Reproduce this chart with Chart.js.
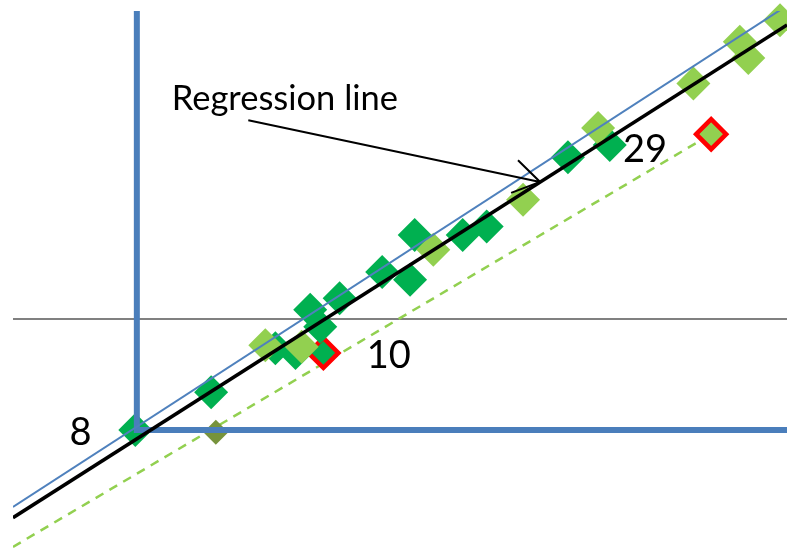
<!DOCTYPE html>
<html>
<head>
<meta charset="utf-8">
<script src="https://cdn.jsdelivr.net/npm/chart.js@4/dist/chart.umd.min.js"></script>
<style>
  html, body { margin: 0; padding: 0; background: #ffffff; }
  #wrap { width: 787px; height: 550px; }
</style>
</head>
<body>
<div id="wrap"><canvas id="c" width="787" height="550"></canvas></div>
<script>
// ---- data (arbitrary units: x 0..100, y -30..40) ----
const darkGreenX = [15.8, 25.6, 33.9, 36.5, 38.4, 39.7, 42.2, 47.7, 51.3, 51.9, 58.1, 61.2, 71.7, 77.1];
const darkGreenY = [-14.4, -9.5, -3.8, -4.4, 1.2, -1.0, 2.7, 6.1, 5.1, 10.9, 10.9, 12.0, 21.0, 22.6];

const lightGreenX = [32.6, 37.3, 54.3, 65.9, 75.6, 87.9, 93.9, 95.0, 99.1];
const lightGreenY = [-3.4, -3.6, 9.0, 15.5, 24.8, 30.6, 36.0, 33.9, 38.8];

const outlierX = [40.1, 90.2];
const outlierY = [-4.4, 24.0];
const outlierFill = ['#00B050', '#92D050'];

const leverageX = [26.2];
const leverageY = [-14.7];

const regressionX = [0, 100];
const regressionY = [-25.8, 38.2];

const fitAllX = [0, 100];
const fitAllY = [-24.4, 40.7];

const fitDashedX = [0, 90.2];
const fitDashedY = [-29.6, 24.0];

const baselineX = [0, 100];
const baselineY = [0, 0];

const crossX = [16.0, 16.0, 100];
const crossY = [40, -14.4, -14.4];

const labelTexts = ['Regression line', '8', '10', '29'];
const labelX = [20.5, 7.3, 45.7, 78.8];
const labelY = [27.1, -16.3, -6.3, 20.4];

const arrowFrom = [30.4, 25.8];
const arrowTo = [68.1, 17.8];

const pts = (xs, ys) => xs.map((x, i) => ({ x: x, y: ys[i] }));

const annotations = {
  id: 'annotations',
  afterDatasetsDraw(chart) {
    const ctx = chart.ctx;
    const xs = chart.scales.x, ys = chart.scales.y;
    ctx.save();
    // arrow
    const x1 = xs.getPixelForValue(arrowFrom[0]), y1 = ys.getPixelForValue(arrowFrom[1]);
    const x2 = xs.getPixelForValue(arrowTo[0]), y2 = ys.getPixelForValue(arrowTo[1]);
    ctx.strokeStyle = '#000000';
    ctx.lineWidth = 2;
    ctx.beginPath();
    ctx.moveTo(x1, y1);
    ctx.lineTo(x2, y2);
    const ang = Math.atan2(y2 - y1, x2 - x1);
    const len = 31, spread = 0.57;
    ctx.moveTo(x2 - len * Math.cos(ang - spread), y2 - len * Math.sin(ang - spread));
    ctx.lineTo(x2, y2);
    ctx.lineTo(x2 - len * Math.cos(ang + spread), y2 - len * Math.sin(ang + spread));
    ctx.stroke();
    // labels
    ctx.fillStyle = '#000000';
    ctx.textAlign = 'left';
    ctx.textBaseline = 'alphabetic';
    labelTexts.forEach((t, i) => {
      ctx.font = (i === 0 ? '34.5px' : '38px') + ' Lato, "Open Sans", sans-serif';
      ctx.fillText(t, xs.getPixelForValue(labelX[i]), ys.getPixelForValue(labelY[i]));
    });
    ctx.restore();
  }
};

new Chart(document.getElementById('c'), {
  type: 'scatter',
  data: {
    datasets: [
      { label: 'Regression', data: pts(regressionX, regressionY), showLine: true, borderColor: '#000000', borderWidth: 3.5, pointRadius: 0, order: 1 },
      { label: 'Fit all', data: pts(fitAllX, fitAllY), showLine: true, borderColor: '#4F81BD', borderWidth: 2, pointRadius: 0, order: 0 },
      { label: 'Cross', data: pts(crossX, crossY), showLine: true, borderColor: '#4A7EBB', borderWidth: 6, pointRadius: 0, order: 2 },
      { label: 'Leverage', data: pts(leverageX, leverageY), pointStyle: 'rectRot', pointRadius: 12.5, backgroundColor: '#77933C', borderColor: '#77933C', borderWidth: 0, order: 3 },
      { label: 'Light', data: pts(lightGreenX, lightGreenY), pointStyle: 'rectRot', pointRadius: 17, backgroundColor: '#92D050', borderColor: '#92D050', borderWidth: 0, order: 4, clip: false },
      { label: 'Dark', data: pts(darkGreenX, darkGreenY), pointStyle: 'rectRot', pointRadius: 17, backgroundColor: '#00B050', borderColor: '#00B050', borderWidth: 0, order: 5 },
      { label: 'Outliers', data: pts(outlierX, outlierY), pointStyle: 'rectRot', pointRadius: 15, backgroundColor: outlierFill, borderColor: '#FF0000', borderWidth: 4.5, order: 6 },
      { label: 'Dashed', data: pts(fitDashedX, fitDashedY), showLine: true, borderColor: '#92D050', borderWidth: 2.5, borderDash: [9, 7], pointRadius: 0, order: 7 },
      { label: 'Baseline', data: pts(baselineX, baselineY), showLine: true, borderColor: '#808080', borderWidth: 2, pointRadius: 0, order: 8 }
    ]
  },
  options: {
    responsive: false,
    devicePixelRatio: 1,
    animation: false,
    events: [],
    layout: { autoPadding: false, padding: { left: 13, top: 11, right: 0, bottom: 0 } },
    plugins: { legend: { display: false }, tooltip: { enabled: false } },
    scales: {
      x: { type: 'linear', min: 0, max: 100, display: false },
      y: { type: 'linear', min: -30, max: 40, display: false }
    }
  },
  plugins: [annotations]
});
</script>
</body>
</html>
